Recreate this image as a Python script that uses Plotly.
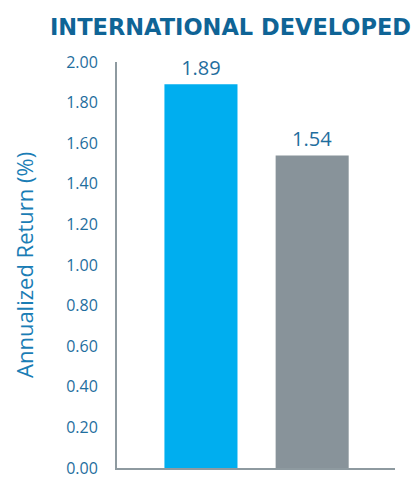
import plotly.graph_objects as go

categories = ["Fund", "Benchmark"]
values = [1.89, 1.54]
value_labels = ["1.89", "1.54"]
bar_colors = ["#00AEEF", "#88939A"]
tick_vals = [0.0, 0.2, 0.4, 0.6, 0.8, 1.0, 1.2, 1.4, 1.6, 1.8, 2.0]
tick_text = ["0.00", "0.20", "0.40", "0.60", "0.80", "1.00", "1.20", "1.40", "1.60", "1.80", "2.00"]
title = "INTERNATIONAL DEVELOPED"
y_title = "Annualized Return (%)"

fig = go.Figure(go.Bar(
    x=categories, y=values,
    marker=dict(color=bar_colors, line=dict(width=0)),
    width=0.657,
    text=value_labels, textposition="outside", cliponaxis=False,
    textfont=dict(family="Open Sans", size=20, color="#1F6E9E"),
))

fig.update_layout(
    width=411, height=472,
    margin=dict(l=109, r=24, t=54, b=12),
    paper_bgcolor="white", plot_bgcolor="white",
    showlegend=False,
    xaxis=dict(range=[-0.755, 1.745], showticklabels=False, ticks="",
               showline=True, linecolor="#8E9AA0", linewidth=2, showgrid=False,
               zeroline=False, automargin=False),
    yaxis=dict(range=[0, 2.0], tickvals=tick_vals, ticktext=tick_text,
               showline=True, linecolor="#8E9AA0", linewidth=2, showgrid=False,
               zeroline=False, ticks="", ticklabelstandoff=14,
               ticklabeloverflow="allow", automargin=False,
               tickfont=dict(family="Open Sans", size=16, color="#1F6E9E")),
    annotations=[
        dict(text="<b>" + title + "</b>", xref="paper", yref="paper",
             x=0.41, y=1.0, yshift=35, xanchor="center", yanchor="middle",
             showarrow=False,
             font=dict(family="DejaVu Sans", size=22.5, color="#0F6496")),
        dict(text=y_title, xref="paper", yref="paper", x=0, xshift=-93,
             y=0.5, textangle=-90, xanchor="center", yanchor="middle",
             showarrow=False,
             font=dict(family="Open Sans", size=22, color="#1A7DB5")),
    ],
)

fig.write_html("out.html")
